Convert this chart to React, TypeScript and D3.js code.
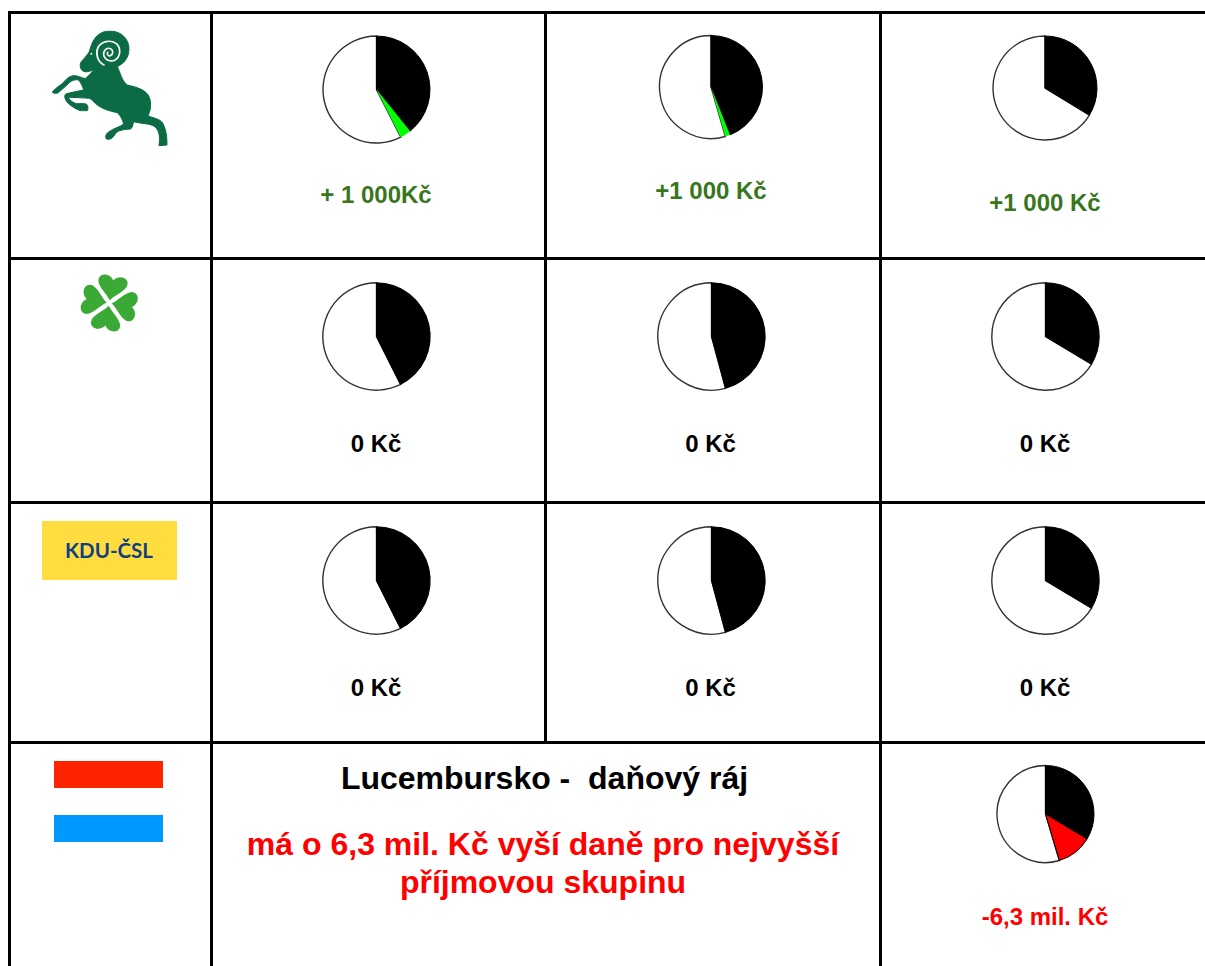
import React from "react";
import * as d3 from "d3";

// Share of the full circle per cell, in percent
const columns = ["c1", "c2", "c3"];
const rowNames = ["ODS", "Zelení", "KDU-ČSL", "Lucembursko"];
const blackShare = [
  [39.2, 44.0, 33.7],
  [42.6, 45.8, 33.6],
  [42.6, 45.8, 33.6],
  [33.6],
];
const changeShare = [
  [3.3, 1.5, 0],
  [0, 0, 0],
  [0, 0, 0],
  [11.8],
];
const cellLabels = [
  ["+ 1 000Kč", "+1 000 Kč", "+1 000 Kč"],
  ["0 Kč", "0 Kč", "0 Kč"],
  ["0 Kč", "0 Kč", "0 Kč"],
  ["-6,3 mil. Kč"],
];
const noteTitle = "Lucembursko -  daňový ráj";
const noteLines = ["má o 6,3 mil. Kč vyší daně pro nejvyšší", "příjmovou skupinu"];

// layout
const gridX = [9.5, 211.5, 545.5, 880.5];
const gridY = [12.5, 258.5, 502.5, 742.5];
const pieCenters = [
  [[376.5, 89.5, 53.5], [711, 87, 51.5], [1045, 88, 52]],
  [[376.5, 336.5, 53.7], [711.5, 336.5, 53.7], [1045.5, 336.5, 53.7]],
  [[376.5, 580.5, 53.7], [711.5, 580.5, 53.7], [1045.5, 580.5, 53.7]],
  [[1045.5, 814, 48.5]],
];
const labelLayout = [
  [[376, 203], [711, 199], [1045, 211]],
  [[376, 452], [710.5, 452], [1045, 452]],
  [[376, 696], [710.5, 696], [1045, 696]],
  [[1045, 925]],
];
const FONT = "'Liberation Sans', Arial, sans-serif";
const labelColor = (row: number) => (row === 0 ? "#38761d" : row === 3 ? "#ff0000" : "#000000");

const ramPath =
  "M265,64 C300,60 328,85 327,118 C326,145 312,160 292,170 C302,190 305,212 322,225 C350,232 378,238 388,262 C396,285 390,305 384,318 C405,325 425,328 431,345 C440,365 441,385 441,405 L417,407 C420,385 420,365 405,350 C392,340 365,342 341,335 C338,345 338,352 332,357 C315,358 298,360 288,368 C282,378 276,389 262,388 C254,386 256,372 266,366 C280,355 298,352 311,342 C308,328 300,315 292,308 C268,303 245,297 226,280 C220,274 215,268 208,265 C188,263 165,263 145,262 C150,272 158,278 170,281 C182,281 195,280 200,283 C205,290 205,298 202,302 C195,303 188,301 181,302 C165,296 148,285 140,275 C134,265 132,258 137,252 C155,247 175,243 191,240 C188,228 182,218 176,210 C168,208 158,210 150,216 C138,228 125,240 113,249 C105,251 98,250 97,246 C105,236 118,228 128,220 C138,208 148,198 160,197 C172,196 185,203 196,206 C205,198 214,190 221,180 C212,183 198,188 190,184 C180,178 178,165 184,155 C192,145 200,138 208,125 C215,100 222,82 240,71 C248,66 256,64 265,64 Z";
const ramSpiral =
  "M252,165 C232,155 226,130 234,112 C244,94 270,88 288,100 C304,113 302,138 287,149 C272,158 254,150 251,134 C250,120 262,112 272,116 C281,121 280,134 271,137 C264,139 260,132 263,127";
const heartPath =
  "M0,-3 C-2,-8 -18,-18 -18,-26 C-18,-35 -5,-36 0,-28 C5,-36 18,-35 18,-26 C18,-18 2,-8 0,-3 Z";

const arc = d3.arc<d3.PieArcDatum<any>>().innerRadius(0);
const pie = d3
  .pie<any>()
  .sort(null)
  .value((d) => d.value);

function Pie({ row, col }: { row: number; col: number }) {
  const [cx, cy, r] = pieCenters[row][col];
  const black = blackShare[row][col];
  const change = changeShare[row][col];
  const slices = [
    { key: "black", value: black, fill: "#000000", stroke: "#000000" },
    { key: "change", value: change, fill: row === 3 ? "#ff0000" : "#00ff00", stroke: row === 3 ? "#000000" : "none" },
    { key: "rest", value: 100 - black - change, fill: "#ffffff", stroke: "#333333" },
  ];
  const arcs = pie(slices);
  const order = [arcs[2], arcs[0], arcs[1]];
  return (
    <g transform={`translate(${cx},${cy})`}>
      {order.map((a) =>
        a.data.value > 0 ? (
          <path
            key={a.data.key}
            d={arc.outerRadius(r)(a) as string}
            fill={a.data.fill}
            stroke={a.data.stroke}
            strokeWidth={a.data.key === "rest" ? 1.4 : 1}
          />
        ) : null
      )}
    </g>
  );
}

export default function App() {
  const H = 966;
  const W = 1205;
  return (
    <svg
      width={W}
      height={H}
      viewBox={`0 0 ${W} ${H}`}
      style={{ position: "fixed", left: 0, top: 0, display: "block", background: "#fff" }}
    >
      <rect width={W} height={H} fill="#ffffff" />
      {/* party logos */}
      <g transform="translate(20,10) scale(0.3333)">
        <path d={ramPath} fill="#0b6b45" stroke="#0b6b45" strokeWidth={3} />
        <path d={ramSpiral} fill="none" stroke="#ffffff" strokeWidth={5} strokeLinecap="round" />
        <circle cx={214} cy={131} r={3} fill="#ffffff" />
      </g>
      <g transform="translate(109.3,303) scale(0.82)">
        {[10, 100, 190, 280].map((a) => (
          <path key={a} d={heartPath} transform={`rotate(${a})`} fill="#3aa935" />
        ))}
      </g>
      <rect x={42} y={521} width={135} height={59} fill="#ffdd40" />
      <text x={109} y={558} textAnchor="middle" fontFamily="'Lato', sans-serif" fontWeight={700} fontSize={20.5} fill="#0f3f80">
        KDU-ČSL
      </text>
      <rect x={54} y={761} width={109} height={27} fill="#ff2400" />
      <rect x={54} y={815} width={109} height={27} fill="#0099ff" />

      {/* grid */}
      {gridY.map((y) => (
        <line key={y} x1={8} x2={W} y1={y} y2={y} stroke="#000" strokeWidth={3} />
      ))}
      {gridX.map((x) => (
        <line key={x} x1={x} x2={x} y1={11} y2={x === gridX[2] ? gridY[3] : H} stroke="#000" strokeWidth={3} />
      ))}

      {/* pies and labels */}
      {rowNames.map((name, row) =>
        cellLabels[row].map((label, col) => {
          const [x, y] = labelLayout[row][col];
          return (
            <g key={`${name}-${columns[col]}`}>
              <Pie row={row} col={col} />
              <text x={x} y={y} textAnchor="middle" fontFamily={FONT} fontWeight={700} fontSize={24} fill={labelColor(row)}>
                {label}
              </text>
            </g>
          );
        })
      )}

      {/* merged note */}
      <text x={544.5} y={788.5} textAnchor="middle" fontFamily={FONT} fontWeight={700} fontSize={32} fill="#000" xmlSpace="preserve">
        {noteTitle}
      </text>
      {noteLines.map((t, i) => (
        <text key={t} x={543} y={i === 0 ? 855 : 893} textAnchor="middle" fontFamily={FONT} fontWeight={700} fontSize={32} fill="#ff0000">
          {t}
        </text>
      ))}
    </svg>
  );
}
